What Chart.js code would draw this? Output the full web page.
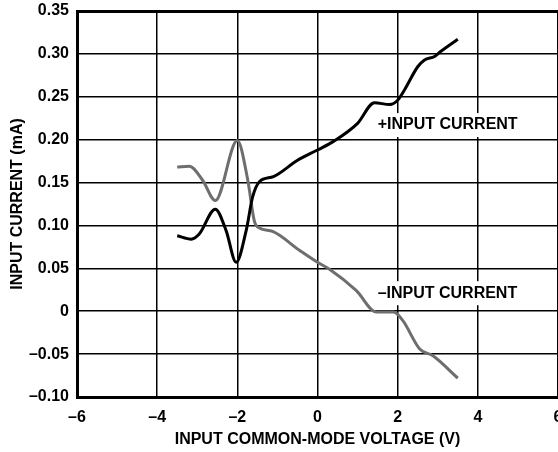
<!DOCTYPE html>
<html>
<head>
<meta charset="utf-8">
<script src="https://cdn.jsdelivr.net/npm/chart.js@4/dist/chart.umd.min.js"></script>
<style>
  html, body { margin: 0; padding: 0; background: #fff; overflow: hidden; }
  #wrap { width: 600px; height: 452px; }
</style>
</head>
<body>
<div id="wrap"><canvas id="chart" width="600" height="452"></canvas></div>
<script>
// --- data ---
const plusX  = [-3.5, -3.15, -2.95, -2.55, -2.28, -2.03, -1.78, -1.62, -1.45, -1.1, -0.5, 0, 0.4, 1.0, 1.42, 1.8, 2.0, 2.17, 2.5, 2.67, 2.92, 3.08, 3.5];
const plusY  = [0.088, 0.084, 0.090, 0.119, 0.094, 0.057, 0.094, 0.133, 0.151, 0.157, 0.176, 0.188, 0.198, 0.219, 0.243, 0.241, 0.246, 0.258, 0.285, 0.293, 0.297, 0.303, 0.317];
const minusX = [-3.5, -3.2, -2.87, -2.55, -2.0, -1.74, -1.575, -1.45, -1.12, -0.45, 0, 0.3, 0.97, 1.47, 1.9, 2.13, 2.55, 2.88, 3.5];
const minusY = [0.168, 0.169, 0.153, 0.129, 0.199, 0.153, 0.105, 0.097, 0.093, 0.071, 0.057, 0.049, 0.024, -0.001, -0.001, -0.011, -0.044, -0.052, -0.078];

const xTicks = [-6, -4, -2, 0, 2, 4, 6];
const yTicks = [-0.10, -0.05, 0, 0.05, 0.10, 0.15, 0.20, 0.25, 0.30, 0.35];
const seriesNames = ['+INPUT CURRENT', '\u2013INPUT CURRENT'];

const FONT = '"Liberation Sans", Arial, sans-serif';

function pts(xs, ys) {
    return xs.map((x, i) => ({ x: x, y: ys[i] }));
}
function fmt(v) {
    const s = v === 0 ? '0' : Math.abs(v).toFixed(Number.isInteger(v) ? 0 : 2);
    return v < 0 ? '\u2013' + s : s;
}

// white-backed in-plot labels, drawn over the grid but under the curves
const curveLabels = {
    id: 'curveLabels',
    beforeDatasetsDraw(chart, args, opts) {
        const c = chart.ctx;
        const xs = chart.scales.x, ys = chart.scales.y;
        c.save();
        c.font = 'bold 16px ' + FONT;
        c.textBaseline = 'middle';
        c.textAlign = 'left';
        opts.items.forEach(it => {
            const px = xs.getPixelForValue(it.x);
            const py = ys.getPixelForValue(it.y);
            const w = c.measureText(it.text).width;
            c.fillStyle = '#fff';
            c.fillRect(px - 4, py - 12, w + 8, 24);
            c.fillStyle = '#000';
            c.fillText(it.text, px, py);
        });
        c.restore();
    }
};

new Chart(document.getElementById('chart'), {
    type: 'scatter',
    data: {
        datasets: [
            {
                label: seriesNames[0],
                data: pts(plusX, plusY),
                showLine: true,
                borderColor: '#000',
                borderWidth: 3,
                cubicInterpolationMode: 'monotone',
                pointRadius: 0
            },
            {
                label: seriesNames[1],
                data: pts(minusX, minusY),
                showLine: true,
                borderColor: '#6e6e6e',
                borderWidth: 3,
                cubicInterpolationMode: 'monotone',
                pointRadius: 0
            }
        ]
    },
    options: {
        responsive: false,
        animation: false,
        layout: { padding: { top: 11, right: 42, left: 0, bottom: 0 } },
        plugins: {
            legend: { display: false },
            tooltip: { enabled: false },
            curveLabels: {
                items: [
                    { text: seriesNames[0], x: 1.5, y: 0.217 },
                    { text: seriesNames[1], x: 1.5, y: 0.021 }
                ]
            }
        },
        scales: {
            x: {
                type: 'linear',
                min: -6,
                max: 6,
                afterBuildTicks: s => { s.ticks = xTicks.map(v => ({ value: v })); },
                afterFit: s => { s.height = 55; s.paddingLeft = 0; s.paddingRight = 0; },
                ticks: {
                    padding: 11,
                    color: '#000',
                    font: { family: FONT, size: 16, weight: 'bold' },
                    callback: v => fmt(v)
                },
                grid: { color: '#000', lineWidth: 1.5, drawTicks: false },
                border: { color: '#000', width: 3 },
                title: {
                    display: true,
                    text: 'INPUT COMMON-MODE VOLTAGE (V)',
                    color: '#000',
                    font: { family: FONT, size: 16, weight: 'bold' },
                    padding: { top: 0, bottom: 3 }
                }
            },
            y: {
                type: 'linear',
                min: -0.10,
                max: 0.35,
                afterBuildTicks: s => { s.ticks = yTicks.map(v => ({ value: v })); },
                afterFit: s => { s.width = 77; s.paddingTop = 0; s.paddingBottom = 0; },
                ticks: {
                    padding: 8,
                    color: '#000',
                    font: { family: FONT, size: 16, weight: 'bold' },
                    callback: v => fmt(v)
                },
                grid: {
                    color: '#000',
                    lineWidth: ctx => (ctx.tick && ctx.tick.value === 0.35) ? 3 : 1.5,
                    drawTicks: false
                },
                border: { color: '#000', width: 3 },
                title: {
                    display: true,
                    text: 'INPUT CURRENT (mA)',
                    color: '#000',
                    font: { family: FONT, size: 16, weight: 'bold' },
                    padding: { top: 8, bottom: 0 }
                }
            }
        }
    },
    plugins: [curveLabels]
});
</script>
</body>
</html>
